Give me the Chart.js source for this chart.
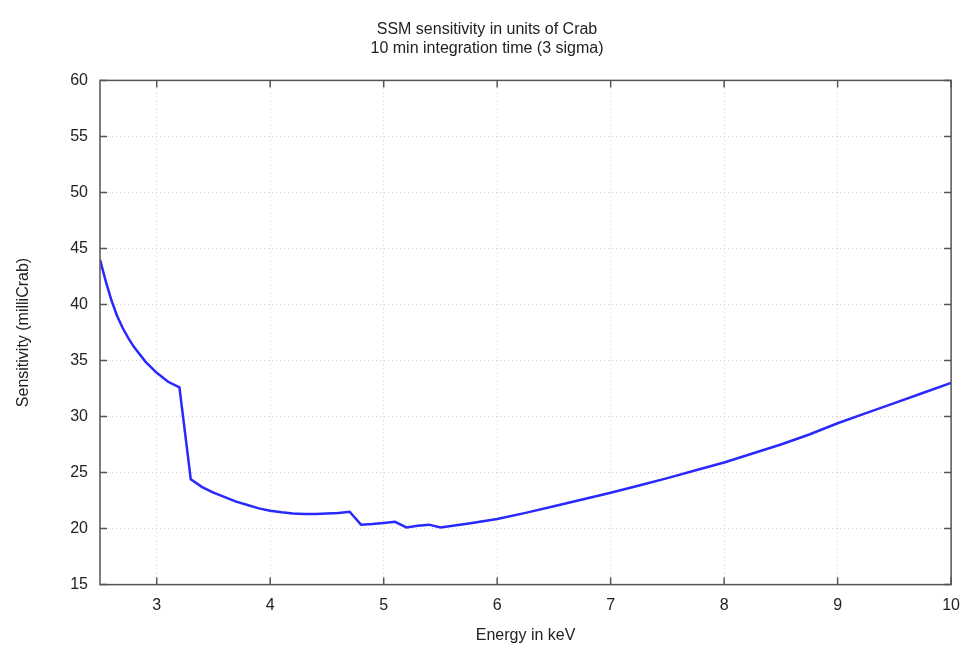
<!DOCTYPE html>
<html>
<head>
<meta charset="utf-8">
<script src="https://cdn.jsdelivr.net/npm/chart.js@4"></script>
<style>
  html, body { margin: 0; padding: 0; background: #fff; }
  #wrap { width: 971px; height: 646px; }
</style>
</head>
<body>
<div id="wrap"><canvas id="c" width="971" height="646"></canvas></div>
<script>
// 能量 (keV)
const energy = [2.5, 2.55, 2.6, 2.65, 2.7, 2.75, 2.8, 2.9, 3.0, 3.1, 3.2, 3.3, 3.4, 3.5, 3.6, 3.7, 3.8, 3.9,
  4.0, 4.1, 4.2, 4.3, 4.4, 4.5, 4.6, 4.7, 4.8, 4.9, 5.0, 5.1, 5.2, 5.3, 5.4, 5.5,
  5.75, 6.0, 6.25, 6.5, 6.75, 7.0, 7.25, 7.5, 7.75, 8.0, 8.25, 8.5, 8.75, 9.0, 9.25, 9.5, 9.75, 10.0];
// 灵敏度 (milliCrab)
const sensitivity = [44.0, 42.1, 40.4, 39.0, 37.9, 37.0, 36.2, 34.9, 33.9, 33.1, 32.6, 24.4, 23.7, 23.2, 22.8, 22.4, 22.1, 21.8,
  21.6, 21.45, 21.35, 21.3, 21.3, 21.35, 21.4, 21.5, 20.35, 20.4, 20.5, 20.6, 20.1, 20.25, 20.35, 20.1,
  20.45, 20.85, 21.4, 22.0, 22.6, 23.2, 23.85, 24.5, 25.2, 25.9, 26.7, 27.5, 28.4, 29.4, 30.3, 31.2, 32.1, 33.0];

const xTicks = [3, 4, 5, 6, 7, 8, 9, 10];
const yTicks = [15, 20, 25, 30, 35, 40, 45, 50, 55, 60];

const FONT = 'Liberation Sans, Arial, sans-serif';
const TEXT = '#222';

// 画外框和向内的刻度线（gnuplot风格）
const frame = {
  id: 'frame',
  afterDatasetsDraw(chart) {
    const { ctx, chartArea: a, scales } = chart;
    ctx.save();
    ctx.strokeStyle = '#555';
    ctx.lineWidth = 1.5;
    ctx.strokeRect(a.left, a.top, a.right - a.left, a.bottom - a.top);
    ctx.beginPath();
    xTicks.forEach(v => {
      const px = scales.x.getPixelForValue(v);
      ctx.moveTo(px, a.bottom); ctx.lineTo(px, a.bottom - 7);
      ctx.moveTo(px, a.top); ctx.lineTo(px, a.top + 7);
    });
    yTicks.forEach(v => {
      const py = scales.y.getPixelForValue(v);
      ctx.moveTo(a.left, py); ctx.lineTo(a.left + 7, py);
      ctx.moveTo(a.right, py); ctx.lineTo(a.right - 7, py);
    });
    ctx.stroke();
    ctx.restore();
  }
};

new Chart(document.getElementById('c').getContext('2d'), {
  type: 'line',
  data: {
    datasets: [{
      data: energy.map((e, i) => ({ x: e, y: sensitivity[i] })),
      borderColor: 'rgb(40, 40, 255)',
      borderWidth: 2.5,
      pointRadius: 0,
      tension: 0,
      fill: false
    }]
  },
  options: {
    responsive: false,
    animation: false,
    layout: { padding: { left: 14, right: 11, top: 8, bottom: 1 } },
    plugins: {
      legend: { display: false },
      tooltip: { enabled: false },
      title: {
        display: true,
        text: ['SSM sensitivity in units of Crab', '10 min integration time (3 sigma)'],
        color: TEXT,
        font: { family: FONT, size: 16, weight: 'normal', lineHeight: 1.2 },
        padding: { top: 12, bottom: 22 }
      }
    },
    scales: {
      x: {
        type: 'linear',
        min: 2.5,
        max: 10,
        afterBuildTicks: s => { s.ticks = xTicks.map(v => ({ value: v })); },
        grid: { color: '#d0d0d0', lineWidth: 1, drawTicks: false },
        border: { display: false, dash: [1, 3] },
        ticks: { color: TEXT, font: { family: FONT, size: 16 }, padding: 11, maxRotation: 0 },
        title: { display: true, text: 'Energy in keV', color: TEXT, font: { family: FONT, size: 16 }, padding: { top: 0, bottom: 0 } }
      },
      y: {
        type: 'linear',
        min: 15,
        max: 60,
        afterBuildTicks: s => { s.ticks = yTicks.map(v => ({ value: v })); },
        grid: { color: '#d0d0d0', lineWidth: 1, drawTicks: false },
        border: { display: false, dash: [1, 3] },
        ticks: { color: TEXT, font: { family: FONT, size: 16 }, padding: 12 },
        title: { display: true, text: 'Sensitivity (milliCrab)', color: TEXT, font: { family: FONT, size: 16 }, padding: { top: 0, bottom: 25 } }
      }
    }
  },
  plugins: [frame]
});
</script>
</body>
</html>
